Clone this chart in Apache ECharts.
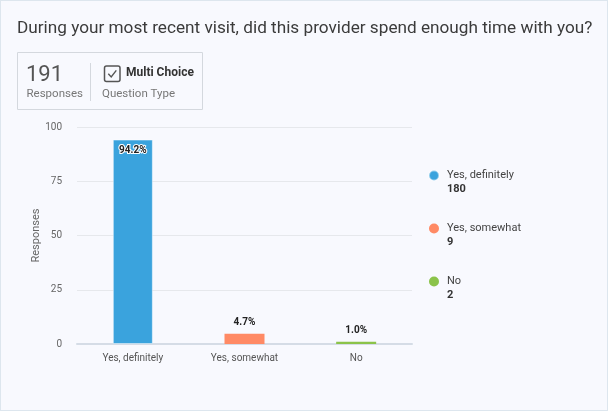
<!DOCTYPE html>
<html>
<head>
<meta charset="utf-8">
<script src="https://cdn.jsdelivr.net/npm/echarts@6/dist/echarts.min.js"></script>
<style>
  html, body { margin: 0; padding: 0; background: #ffffff; }
  #card {
    position: absolute; left: 0; top: 0;
    width: 606px; height: 409px;
    background: #f8f9fe;
    border: 1px solid #dde6ee;
  }
  #chart { position: absolute; left: 0; top: 0; width: 612px; height: 414px; }
</style>
</head>
<body>
<div id="card"></div>
<div id="chart"></div>
<script>
var question = 'During your most recent visit, did this provider spend enough time with you?'
var totalResponses = 191
var questionType = 'Multi Choice'
var categories = ['Yes, definitely', 'Yes, somewhat', 'No']
var percents = [94.2, 4.7, 1.0]
var counts = [180, 9, 2]
var colors = ['#3aa3dd', '#ff8a65', '#8bc34a']
var yTicks = [0, 25, 50, 75, 100]

var myChart = echarts.init(document.getElementById('chart'))

var series = categories.map(function (name, i) {
  return {
    name: name,
    type: 'bar',
    barWidth: 40,
    barGap: '-100%',
    itemStyle: { color: colors[i], borderColor: 'rgba(255,255,255,0.45)', borderWidth: i === 0 ? 1 : 0 },
    label: {
      show: true,
      position: i === 0 ? 'insideTop' : 'top',
      distance: i === 0 ? 6 : 6,
      formatter: function (p) { return p.value.toFixed(1) + '%' },
      fontFamily: 'Roboto',
      fontSize: 10,
      fontWeight: 'bold',
      color: '#222',
      textBorderColor: i === 0 ? '#fff' : 'transparent',
      textBorderWidth: i === 0 ? 2 : 0
    },
    data: categories.map(function (c, j) { return j === i ? percents[i] : '-' })
  }
})

var option = {
  textStyle: { fontFamily: 'Roboto' },
  title: {
    text: question,
    left: 12,
    top: 15,
    textStyle: { fontSize: 17.2, fontWeight: 'normal', color: '#3b3b3b', fontFamily: 'Roboto' }
  },
  graphic: [
    { type: 'rect', shape: { x: 17.5, y: 52.5, width: 185, height: 57 }, style: { fill: 'none', stroke: '#d4d8de', lineWidth: 1 } },
    { type: 'text', x: 26, y: 64, style: { text: String(totalResponses), fontSize: 22, fontWeight: 'normal', fontFamily: 'Roboto', fill: '#555' } },
    { type: 'text', x: 26.5, y: 88, style: { text: 'Responses', fontSize: 11.5, fontFamily: 'Roboto', fill: '#777' } },
    { type: 'line', shape: { x1: 90.5, y1: 63, x2: 90.5, y2: 101 }, style: { stroke: '#d4d8de', lineWidth: 1 } },
    { type: 'rect', shape: { x: 104.5, y: 66, width: 15.5, height: 15.5, r: 2 }, style: { fill: 'none', stroke: '#555', lineWidth: 1.5 } },
    { type: 'polyline', shape: { points: [[108.3, 73.8], [111.2, 77], [116.3, 70.3]] }, style: { fill: 'none', stroke: '#555', lineWidth: 1.4 } },
    { type: 'text', x: 126, y: 66.5, style: { text: questionType, fontSize: 12, fontWeight: 'bold', fontFamily: 'Roboto', fill: '#333' } },
    { type: 'text', x: 102, y: 88, style: { text: 'Question Type', fontSize: 11.5, fontFamily: 'Roboto', fill: '#777' } }
  ],
  legend: {
    orient: 'vertical',
    left: 428,
    top: 156,
    padding: 0,
    itemGap: 14,
    itemWidth: 10,
    itemHeight: 10,
    icon: 'circle',
    data: categories,
    formatter: function (name) {
      var i = categories.indexOf(name)
      return '{e| }\n{n|' + name + '}\n{c|' + counts[i] + '}'
    },
    textStyle: {
      rich: {
        e: { fontSize: 11, lineHeight: 14, padding: [0, 0, 0, 3] },
        n: { fontSize: 11, lineHeight: 14, color: '#444', padding: [0, 0, 0, 3], fontFamily: 'Roboto' },
        c: { fontSize: 11, lineHeight: 14, color: '#333', fontWeight: 'bold', padding: [0, 0, 0, 3], fontFamily: 'Roboto' }
      }
    }
  },
  grid: { left: 77, right: 200, top: 127, bottom: 70 },
  xAxis: {
    type: 'category',
    data: categories,
    axisLine: { lineStyle: { color: '#d5dce6', width: 2 } },
    axisTick: { show: false },
    axisLabel: { color: '#555', fontSize: 10, margin: 9 }
  },
  yAxis: {
    type: 'value',
    min: yTicks[0],
    max: yTicks[yTicks.length - 1],
    interval: 25,
    name: 'Responses',
    nameLocation: 'middle',
    nameGap: 35,
    nameMoveOverlap: false,
    nameTextStyle: { color: '#666', fontSize: 11 },
    axisLine: { show: false },
    axisTick: { show: false },
    axisLabel: { color: '#666', fontSize: 10, margin: 15 },
    splitLine: { lineStyle: { color: '#e6e8ec' } }
  },
  series: series
}

myChart.setOption(option)
</script>
</body>
</html>
